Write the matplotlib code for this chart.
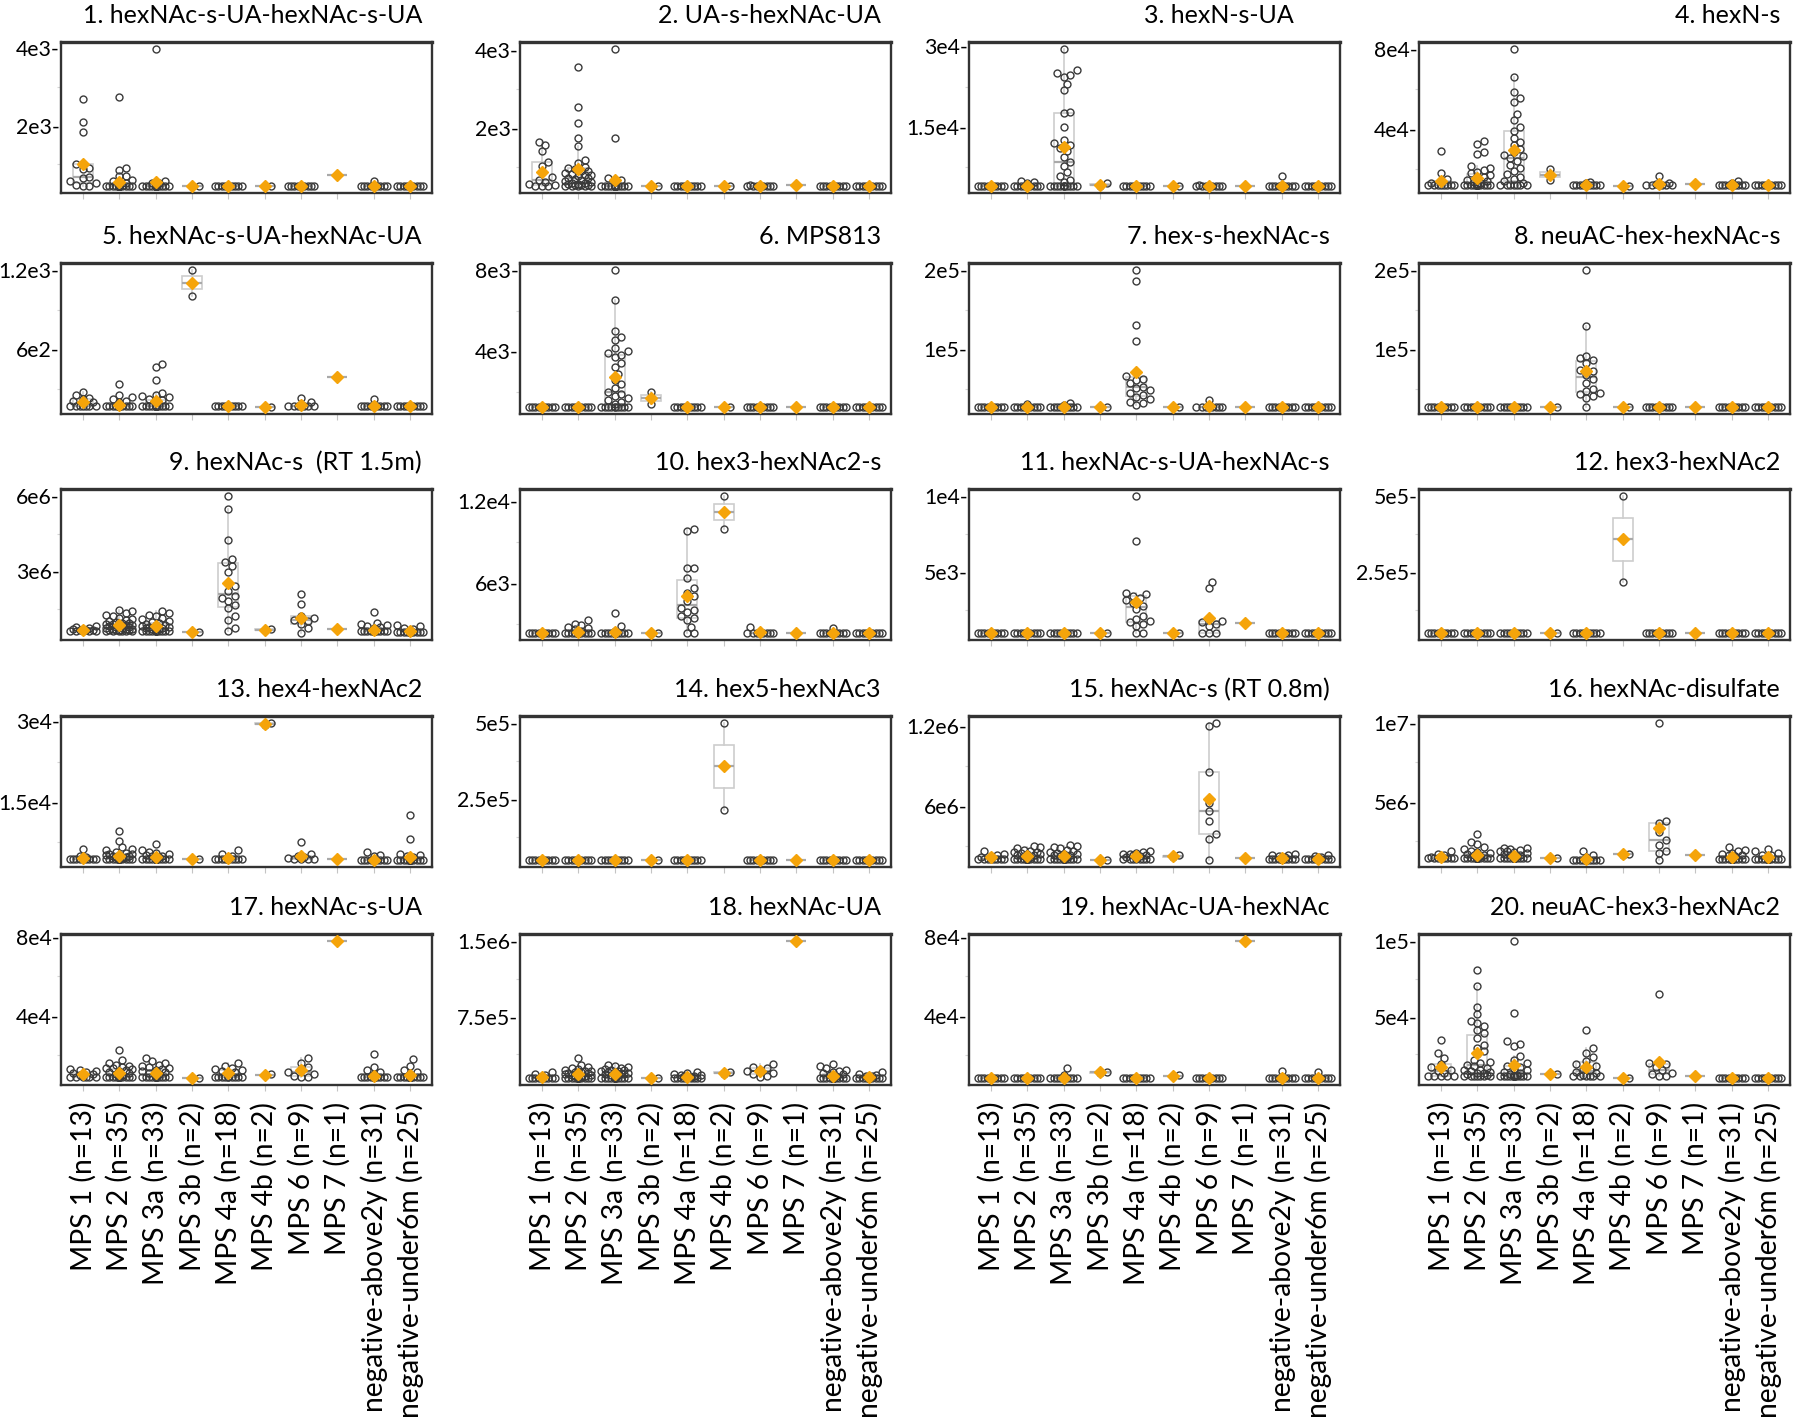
import numpy as np
import matplotlib
matplotlib.use("Agg")
import matplotlib.pyplot as plt

plt.rcParams["font.family"] = ["Lato", "DejaVu Sans"]

# group names (x axis)
groups = ["MPS 1 (n=13)", "MPS 2 (n=35)", "MPS 3a (n=33)", "MPS 3b (n=2)",
          "MPS 4a (n=18)", "MPS 4b (n=2)", "MPS 6 (n=9)", "MPS 7 (n=1)",
          "negative-above2y (n=31)", "negative-under6m (n=25)"]

titles = ["1. hexNAc-s-UA-hexNAc-s-UA", "2. UA-s-hexNAc-UA", "3. hexN-s-UA", "4. hexN-s",
          "5. hexNAc-s-UA-hexNAc-UA", "6. MPS813", "7. hex-s-hexNAc-s", "8. neuAC-hex-hexNAc-s",
          "9. hexNAc-s  (RT 1.5m)", "10. hex3-hexNAc2-s", "11. hexNAc-s-UA-hexNAc-s", "12. hex3-hexNAc2",
          "13. hex4-hexNAc2", "14. hex5-hexNAc3", "15. hexNAc-s (RT 0.8m)", "16. hexNAc-disulfate",
          "17. hexNAc-s-UA", "18. hexNAc-UA", "19. hexNAc-UA-hexNAc", "20. neuAC-hex3-hexNAc2"]

# y ticks per panel (value, label)
tick_values = [[2e3, 4e3], [2e3, 4e3], [1.5e4, 3e4], [4e4, 8e4],
               [6e2, 1.2e3], [4e3, 8e3], [1e5, 2e5], [1e5, 2e5],
               [3e6, 6e6], [6e3, 1.2e4], [5e3, 1e4], [2.5e5, 5e5],
               [1.5e4, 3e4], [2.5e5, 5e5], [6e5, 1.2e6], [5e6, 1e7],
               [4e4, 8e4], [7.5e5, 1.5e6], [4e4, 8e4], [5e4, 1e5]]
tick_labels = [["2e3", "4e3"], ["2e3", "4e3"], ["1.5e4", "3e4"], ["4e4", "8e4"],
               ["6e2", "1.2e3"], ["4e3", "8e3"], ["1e5", "2e5"], ["1e5", "2e5"],
               ["3e6", "6e6"], ["6e3", "1.2e4"], ["5e3", "1e4"], ["2.5e5", "5e5"],
               ["1.5e4", "3e4"], ["2.5e5", "5e5"], ["6e6", "1.2e6"], ["5e6", "1e7"],
               ["4e4", "8e4"], ["7.5e5", "1.5e6"], ["4e4", "8e4"], ["5e4", "1e5"]]

# ---- measured values, one list per group ----
p01 = [[2700, 2090, 1830, 1000, 900, 880, 660, 640, 560, 520, 470, 440, 430],
       [2750, 900, 860, 700, 680, 600, 560, 520, 500] + [430] * 26,
       [3990, 560, 520, 500, 480] + [430] * 28,
       [430, 430], [430] * 18, [430, 430], [430] * 9, [725],
       [570] + [430] * 30, [430] * 25]
p02 = [[1650, 1550, 1400, 1130, 1010, 740, 670, 610, 560, 540, 500, 500, 500],
       [3570, 2530, 2120, 1730, 1540, 1180, 1100, 1000, 980, 950, 900, 880, 850, 820, 800,
        780, 750, 720, 700, 680, 650, 630, 610, 590, 570, 560, 550, 540, 530, 520,
        510, 500, 500, 500, 500],
       [4040, 1730, 700, 650, 600] + [500] * 28,
       [500, 500], [500] * 18, [500, 500], [520] + [500] * 8, [520],
       [500] * 31, [500] * 25]
p03 = [[4000] * 13,
       [5000, 4700, 4500] + [4000] * 32,
       [29500, 25500, 25000, 24700, 24300, 23000, 21800, 17800, 17500, 15000, 12500, 12100,
        11600, 11100, 10500, 9400, 8500, 7800, 6700, 5800, 5200, 4700] + [4000] * 11,
       [4500, 4100], [4000] * 18, [4000, 4000], [4300] + [4000] * 8, [4000],
       [5800, 4300] + [4000] * 29, [4000] * 25]
p04 = [[29000, 18000, 15000, 14000, 13000] + [12000] * 8,
       [34000, 32300, 28600, 27600, 21300, 20500, 19600, 18800, 17900, 17000, 16200, 15400,
        14700, 14000, 13500, 13000, 12500] + [12000] * 18,
       [80000, 66000, 58700, 55300, 53500, 47700, 44500, 41200, 39000, 35700, 33500, 32000,
        30000, 28500, 27000, 26500, 25500, 24000, 22000, 20500, 19000, 17500, 16000, 15000,
        14000, 13000] + [12000] * 7,
       [20000, 14500], [13500, 13000] + [12000] * 16, [11500, 11500],
       [16700, 13000, 12500] + [12000] * 6, [12500],
       [14000, 13000] + [12000] * 29, [12000] * 25]
p05 = [[280, 260, 235, 225, 210, 200] + [170] * 7,
       [340, 260, 240, 225, 210, 200] + [170] * 29,
       [490, 470, 370, 275, 260, 250, 240, 230, 220, 210] + [170] * 23,
       [1200, 1005], [170] * 18, [165, 165], [235, 200] + [170] * 7, [390],
       [230] + [170] * 30, [170] * 25]
p06 = [[1250] * 13, [1250] * 35,
       [8000, 6500, 5000, 4700, 4550, 4150, 4000, 3900, 3800, 3700, 3400, 3200, 2900, 2600,
        2400, 2200, 2000, 1900, 1800, 1700, 1600, 1500, 1400] + [1250] * 10,
       [1980, 1400], [1250] * 18, [1250, 1250], [1250] * 9, [1250],
       [1250] * 31, [1250] * 25]
p07 = [[27000] * 13, [31000] + [27000] * 34, [32000, 30000] + [27000] * 31,
       [27000, 27000],
       [200000, 186000, 130000, 110000, 66000, 63000, 61000, 58000, 53000, 51000, 48000,
        45000, 42000, 40000, 37000, 34000, 32000, 30000],
       [27000, 27000], [36000] + [27000] * 8, [27000], [27000] * 31, [27000] * 25]
p08 = [[27000] * 13, [27000] * 35, [27000] * 33, [27000, 27000],
       [200000, 129000, 92000, 89000, 86000, 82000, 74000, 72000, 68000, 62000, 57000,
        50000, 47000, 45000, 43000, 41000, 38000, 27000],
       [27000, 27000], [27000] * 9, [27000], [27000] * 31, [27000] * 25]
p09 = [[800000, 760000, 720000, 700000, 680000, 660000, 650000, 640000, 620000, 610000,
        600000, 600000, 600000],
       [1470000, 1400000, 1330000, 1250000, 1200000, 1150000, 1100000, 1050000, 1000000,
        980000, 950000, 920000, 900000, 880000, 860000, 840000, 820000, 800000, 780000,
        760000, 740000, 720000, 700000, 690000, 680000, 670000, 660000, 650000, 640000,
        630000, 620000, 610000, 600000, 600000, 600000],
       [1400000, 1330000, 1270000, 1200000, 1130000, 1080000, 1030000, 980000, 940000,
        900000, 870000, 840000, 810000, 780000, 760000, 740000, 720000, 700000, 690000,
        680000] + [600000] * 13,
       [580000, 560000],
       [6000000, 5470000, 4240000, 3470000, 3370000, 3200000, 2970000, 2400000, 2200000,
        2000000, 1930000, 1800000, 1670000, 1530000, 1200000, 1070000, 730000, 600000],
       [700000, 640000],
       [2070000, 1690000, 1200000, 1130000, 1070000, 1000000, 900000, 730000, 530000],
       [710000],
       [1370000, 950000, 900000, 850000, 800000, 760000, 720000] + [600000] * 24,
       [870000, 800000, 750000, 700000, 650000] + [580000] * 20]
p10 = [[2330] * 13,
       [3270, 3000, 2900, 2800, 2700, 2600, 2500, 2450] + [2330] * 27,
       [3810, 2890, 2500] + [2330] * 30,
       [2330, 2330],
       [9980, 9800, 7090, 7090, 6410, 5640, 5270, 5030, 4710, 4150, 4050, 3910, 3620, 3420,
        3300, 2770, 2330, 2330],
       [12400, 10000], [2770] + [2330] * 8, [2330], [2700] + [2330] * 30, [2330] * 25]
p11 = [[1000] * 13, [1000] * 35, [1000] * 33, [1000, 1000],
       [10000, 7050, 3660, 3550, 3440, 3300, 3150, 3000, 2810, 2600, 2140, 1920, 1810, 1700,
        1600, 1480, 1000, 1000],
       [1000, 1000], [4330, 3930, 1800, 1700, 1600, 1500, 1000, 1000, 1000], [1650],
       [1000] * 31, [1000] * 25]
p12 = [[50000] * 13, [50000] * 35, [50000] * 33, [50000, 50000], [50000] * 18,
       [500000, 216000], [50000] * 9, [50000], [50000] * 31, [50000] * 25]
p13 = [[6300, 5000, 4800, 4700] + [4380] * 9,
       [9600, 7800, 6600, 6300, 6000, 5800, 5600, 5400, 5300, 5200, 5100, 5000, 4900, 4800,
        4700, 4600, 4500] + [4380] * 18,
       [7200, 6000, 5800, 5500, 5300, 5100, 5000, 4900, 4800, 4700] + [4380] * 23,
       [4380, 4380],
       [6000, 5400, 5000, 4800] + [4380] * 14,
       [29700, 29300],
       [7600, 5400, 5000, 4800, 4600, 4500, 4400, 4380, 4380],
       [4400],
       [5700, 5200, 4900] + [4200] * 28,
       [12600, 8100, 5400, 5100, 4900, 4700, 4500] + [4200] * 18]
p14 = [[50000] * 13, [50000] * 35, [50000] * 33, [50000, 50000], [50000] * 18,
       [500000, 215000], [50000] * 9, [50000], [50000] * 31, [50000] * 25]
p15 = [[260000, 240000, 230000, 220000, 215000] + [200000] * 8,
       [300000, 290000, 280000, 270000, 260000, 255000, 250000, 245000, 240000, 235000,
        230000, 225000, 220000, 215000, 210000] + [200000] * 20,
       [305000, 300000, 290000, 280000, 270000, 260000, 250000, 245000, 240000, 235000,
        230000, 225000, 220000, 215000, 210000] + [200000] * 18,
       [190000, 190000],
       [260000, 250000, 245000, 240000, 235000, 230000, 225000, 220000, 215000, 210000] + [200000] * 8,
       [225000, 210000],
       [1225000, 1200000, 855000, 620000, 563000, 482000, 384000, 350000, 194000],
       [205000],
       [240000, 230000, 225000, 220000, 215000, 210000] + [200000] * 25,
       [230000, 220000, 215000, 210000] + [195000] * 21]
p16 = [[1.85e6, 1.7e6, 1.6e6, 1.55e6, 1.5e6] + [1.45e6] * 8,
       [2.98e6, 2.46e6, 2.3e6, 2.15e6, 2.0e6, 1.9e6, 1.8e6, 1.75e6, 1.7e6, 1.65e6, 1.6e6,
        1.55e6, 1.5e6] + [1.45e6] * 22,
       [2.1e6, 2.05e6, 2.0e6, 1.95e6, 1.9e6, 1.85e6, 1.8e6, 1.75e6, 1.7e6, 1.65e6, 1.6e6,
        1.55e6, 1.5e6] + [1.45e6] * 20,
       [1.42e6, 1.42e6],
       [1.88e6, 1.6e6, 1.5e6] + [1.3e6] * 15,
       [1.7e6, 1.65e6],
       [10e6, 3.8e6, 3.65e6, 3.1e6, 2.56e6, 2.25e6, 1.9e6, 1.75e6, 1.3e6],
       [1.63e6],
       [2.15e6, 1.95e6, 1.85e6, 1.75e6, 1.7e6, 1.65e6, 1.6e6, 1.55e6, 1.5e6] + [1.4e6] * 22,
       [2.0e6, 1.85e6, 1.75e6, 1.65e6, 1.6e6, 1.55e6] + [1.4e6] * 19]
p17 = [[13000, 12500, 12000, 11500, 11000, 10500, 10000] + [8800] * 6,
       [22800, 17500, 16000, 15000, 14500, 14000, 13500, 13300, 13000, 12500, 12000, 11500,
        11000, 10500, 10000, 9500] + [8800] * 19,
       [18300, 17000, 16000, 15000, 14500, 14000, 13500, 13000, 12500, 12000, 11500, 11000,
        10500, 10000] + [8800] * 19,
       [8300, 8300],
       [16200, 14500, 13500, 13000, 12500, 12000, 11500, 11000] + [8800] * 10,
       [10200, 9800],
       [18300, 16000, 14000, 12500, 11500, 10500, 9500, 8800, 8800],
       [78000],
       [20800, 14000, 12500, 11500, 10500] + [8800] * 26,
       [17800, 14500, 12500, 11500, 10500] + [8800] * 20]
p18 = [[200000, 180000, 170000, 160000] + [140000] * 9,
       [340000, 270000, 250000, 240000, 230000, 220000, 215000, 210000, 205000, 200000,
        195000, 190000, 185000, 180000, 175000, 170000, 165000, 160000, 155000, 150000] + [140000] * 15,
       [275000, 260000, 250000, 240000, 230000, 225000, 220000, 215000, 210000, 205000,
        200000, 195000, 190000, 185000, 180000, 175000, 170000, 160000] + [140000] * 15,
       [140000, 140000],
       [200000, 190000, 180000, 175000, 170000, 165000, 160000, 155000, 150000] + [140000] * 9,
       [200000, 185000],
       [285000, 255000, 240000, 225000, 210000, 195000, 180000, 165000, 150000],
       [1500000],
       [285000, 260000, 240000, 225000, 215000, 205000, 195000, 185000, 175000, 165000,
        155000] + [140000] * 20,
       [200000, 185000, 175000, 165000, 160000, 155000] + [140000] * 19]
p19 = [[8300] * 13, [8300] * 35, [13300, 10000] + [8300] * 31, [11500, 11000],
       [8300] * 18, [9700, 9300], [8300] * 9, [78000],
       [11700] + [8300] * 30, [11500] + [8300] * 24]
p20 = [[34300, 26100, 22800, 18500, 16500, 15000, 14000, 12500, 11000] + [10400] * 4,
       [81000, 70000, 56500, 52000, 47000, 45500, 43500, 41000, 39000, 36000, 31500, 29500,
        27000, 25000, 21000, 20000, 19000, 18000, 17000, 16000, 15000, 14500, 14000, 13500,
        13000, 12500, 12000, 11500, 11000] + [10400] * 6,
       [100000, 52600, 33700, 32000, 30500, 24000, 21000, 19000, 17500, 16500, 15500, 14500,
        13500, 12500, 12000, 11500, 11000] + [10400] * 16,
       [12200, 11800],
       [41300, 29300, 26000, 23000, 20500, 18500, 17000, 15500, 14500, 13500, 12500, 11500] + [10400] * 6,
       [9500, 9500],
       [65200, 19600, 18500, 16500, 14500, 13000, 12000, 10400, 10400],
       [10900],
       [9300] * 31, [9300] * 25]

panels = [p01, p02, p03, p04, p05, p06, p07, p08, p09, p10,
          p11, p12, p13, p14, p15, p16, p17, p18, p19, p20]


def swarm_x(ax, xc, vals, d, half_w):
    # simple beeswarm: place points low to high, first free slot nearest the centre
    ypix = ax.transData.transform(np.column_stack([np.full(len(vals), xc), vals]))[:, 1]
    ppu = ax.bbox.width / (ax.get_xlim()[1] - ax.get_xlim()[0])
    step = d / 2
    cands = [0.0]
    k = 1
    while k * step <= half_w * ppu + 1e-6:
        cands += [k * step, -k * step]
        k += 1
    placed = []
    offs = np.zeros(len(vals))
    for i in np.argsort(vals, kind="stable"):
        best, best_gap = 0.0, -1.0
        for c in cands:
            gap = min((np.hypot(c - px, ypix[i] - py) for px, py in placed), default=np.inf)
            if gap >= d:
                best = c
                break
            if gap > best_gap + 1e-9:
                best, best_gap = c, gap
        placed.append((best, ypix[i]))
        offs[i] = best
    return xc + offs / ppu


# set-up figure
W, H = 1800, 1420
fig = plt.figure(figsize=(18, 14.2), dpi=100)
lefts = [61, 520, 969, 1419]
tops = [42, 263, 489, 716, 934]
aw, ah = 371, 151
title_pad = {2: 46}

box_col = "#cdcdcd"
for p, data in enumerate(panels):
    r, c = divmod(p, 4)
    ax = fig.add_axes([lefts[c] / W, 1 - (tops[r] + ah) / H, aw / W, ah / H])
    pos = np.arange(len(groups))

    allv = np.concatenate([np.asarray(g, float) for g in data])
    lo, hi = allv.min(), allv.max()
    pad = 0.05 * (hi - lo)
    ax.set_xlim(-0.6, 9.6)
    ax.set_ylim(lo - pad, hi + pad)

    ax.boxplot(data, positions=pos, widths=0.55, showfliers=False, showcaps=False,
               patch_artist=True,
               boxprops=dict(facecolor="white", edgecolor=box_col, linewidth=1.2),
               whiskerprops=dict(color=box_col, linewidth=1.2),
               medianprops=dict(color="#a9a9a9", linewidth=1.6), zorder=1)

    for i, g in enumerate(data):
        g = np.asarray(g, float)
        xs = swarm_x(ax, i, g, 6.6, 0.37)
        ax.plot(xs, g, "o", ms=5.0, mfc="none", mec="#3a3a3a", mew=1.0, ls="none", zorder=2)

    means = [np.mean(g) for g in data]
    ax.plot(pos, means, "D", ms=6.6, color="#F5A40A", mec="#F5A40A", ls="none", zorder=4)

    # y axis: labels with trailing dash, faint half-step ticks
    ax.set_yticks(tick_values[p])
    ax.set_yticklabels([t + "-" for t in tick_labels[p]])
    a = tick_values[p][0]
    ax.set_yticks([a / 2, 1.5 * a], minor=True)
    ax.tick_params(axis="y", which="major", length=0, pad=1, labelsize=15.3)
    ax.tick_params(axis="y", which="minor", length=3, width=0.8, color="#d6d6d6")

    ax.set_xticks(pos)
    ax.tick_params(axis="x", length=4, width=0.8, color="#c4c4c4")
    if r == 4:
        ax.set_xticklabels(groups, rotation=90, fontsize=20.3, va="top")
        ax.tick_params(axis="x", pad=8)
    else:
        ax.set_xticklabels([])

    for s in ax.spines.values():
        s.set_color("#333333")
        s.set_linewidth(1.7)
    ax.spines["top"].set_linewidth(2.4)

    tp = title_pad.get(p, 10)
    ax.text(1 - tp / aw, 1 + 19 / ah, titles[p], transform=ax.transAxes,
            ha="right", va="baseline", fontsize=18)

plt.savefig("out.png", dpi=100)
